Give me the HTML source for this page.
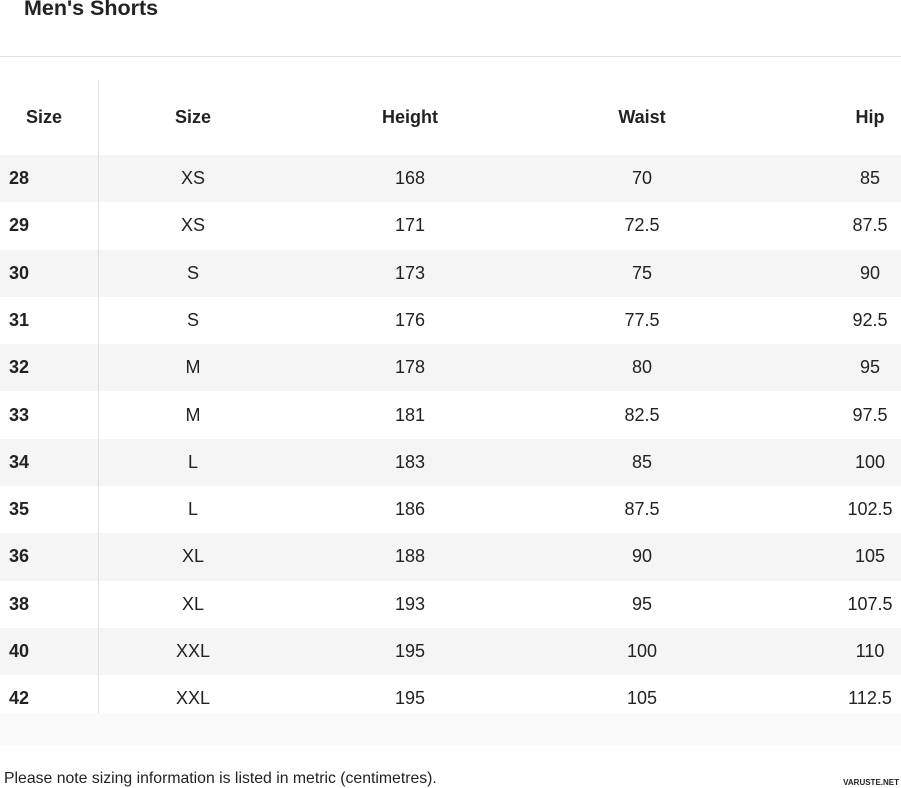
<!DOCTYPE html>
<html><head><style>
body{margin:0;width:901px;height:788px;background:#fff;font-family:"Liberation Sans",sans-serif;color:#222;position:relative;overflow:hidden}
.t{position:absolute;font-size:18px;line-height:20px;white-space:nowrap;transform:translateX(-50%)}
.b{font-weight:bold}
.band{position:absolute;left:0;width:901px;background:#f5f5f5}
</style></head><body>
<div style="position:absolute;left:24px;top:-4px;font-size:21.5px;font-weight:bold;color:#222">Men's Shorts</div>
<div style="position:absolute;left:0;top:56px;width:901px;height:1px;background:#e2e2e2"></div>
<div id="rows"></div>
<div class="band" style="top:713px;height:33px;background:#fafafa"></div>
<div style="position:absolute;left:98px;top:80px;width:1px;height:633px;background:#e0e0e0"></div>
<div style="position:absolute;left:4px;top:770px;font-size:15.8px;color:#222">Please note sizing information is listed in metric (centimetres).</div>
<div style="position:absolute;right:2px;top:778px;font-size:8px;font-weight:bold;color:#222">VARUSTE.NET</div>
<script>
(function(){
var d=[["28","XS","168","70","85"],["29","XS","171","72.5","87.5"],["30","S","173","75","90"],["31","S","176","77.5","92.5"],["32","M","178","80","95"],["33","M","181","82.5","97.5"],["34","L","183","85","100"],["35","L","186","87.5","102.5"],["36","XL","188","90","105"],["38","XL","193","95","107.5"],["40","XXL","195","100","110"],["42","XXL","195","105","112.5"]];
var xs=[0,193,410,642,870],h="";
var hd=["Size","Size","Height","Waist","Hip"];
h+='<div class="t b" style="left:44px;top:107px">Size</div>';
for(var i=1;i<5;i++)h+='<div class="t b" style="left:'+xs[i]+'px;top:107px">'+hd[i]+'</div>';
for(var r=0;r<12;r++){var y0=155+r*47.3;
if(r%2==0)h+='<div class="band" style="top:'+y0+'px;height:47.3px"></div>';
var ty=y0+13;
h+='<div class="t b" style="left:9px;transform:none;top:'+ty+'px">'+d[r][0]+'</div>';
for(var i=1;i<5;i++)h+='<div class="t" style="left:'+xs[i]+'px;top:'+ty+'px">'+d[r][i]+'</div>';}
document.getElementById("rows").innerHTML=h;
})();
</script>
</body></html>
